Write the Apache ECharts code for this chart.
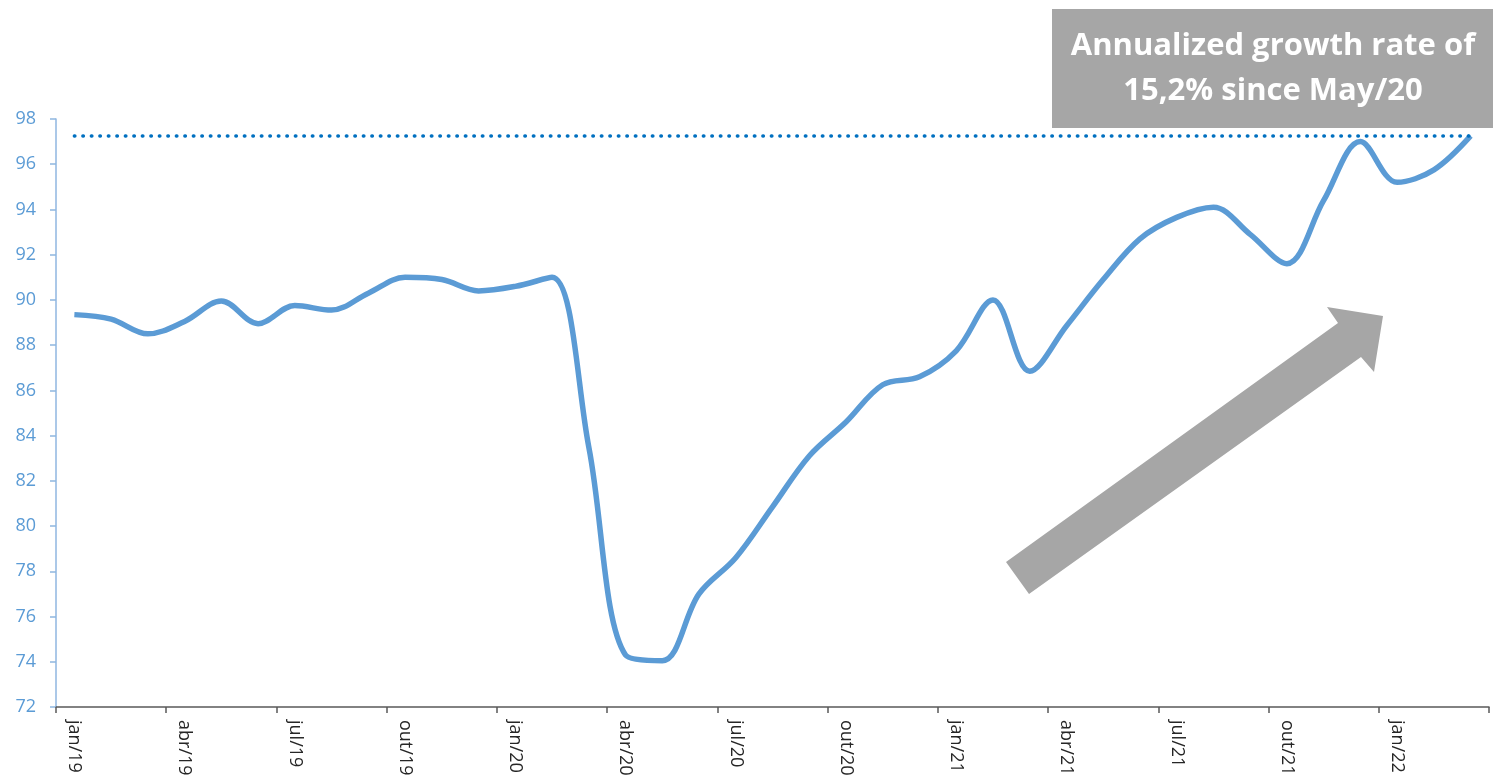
<!DOCTYPE html>
<html lang="en">

<head>
  <meta charset="UTF-8">
  <title>Index</title>
  <style>
    body { margin: 0; background: #fff; }
  </style>
</head>

<body>
  <div class="wrapper" style="width:1493px;height:781px;"></div>

  <script src="https://cdn.jsdelivr.net/npm/echarts@6/dist/echarts.min.js"></script>
  <script>
    // months jan/19 .. mar/22
    const months = [
      'jan/19', 'fev/19', 'mar/19', 'abr/19', 'mai/19', 'jun/19', 'jul/19', 'ago/19', 'set/19', 'out/19', 'nov/19', 'dez/19',
      'jan/20', 'fev/20', 'mar/20', 'abr/20', 'mai/20', 'jun/20', 'jul/20', 'ago/20', 'set/20', 'out/20', 'nov/20', 'dez/20',
      'jan/21', 'fev/21', 'mar/21', 'abr/21', 'mai/21', 'jun/21', 'jul/21', 'ago/21', 'set/21', 'out/21', 'nov/21', 'dez/21',
      'jan/22', 'fev/22', 'mar/22'
    ]
    const index = [
      89.35, 89.15, 88.5, 89.05, 89.95, 88.95, 89.75, 89.55, 90.3, 91.0, 90.9, 90.4,
      90.6, 91.0, 83.5, 74.3, 74.05, 77.0, 78.6, 80.85, 83.1, 84.6, 86.25, 86.6,
      87.75, 90.0, 86.85, 88.85, 90.9, 92.7, 93.65, 94.1, 92.9, 91.6, 94.4, 97.0,
      95.2, 95.75, 97.25
    ]
    // level of the last month, drawn as the dotted reference
    const lastLevel = 97.25
    const yTicks = { min: 72, max: 98, step: 2 }
    const note = 'Annualized growth rate of\n15,2% since May/20'

    const chart = echarts.init(document.querySelector('.wrapper'))

    const option = {
      animation: false,
      grid: { left: 56, right: 4, top: 119, bottom: 74 },
      xAxis: {
        type: 'category',
        data: months,
        boundaryGap: true,
        axisLine: { show: true, lineStyle: { color: '#595959', width: 1.5 } },
        axisTick: {
          show: true,
          interval: 2,
          alignWithLabel: false,
          length: 6,
          lineStyle: { color: '#595959', width: 1.5 }
        },
        axisLabel: {
          interval: 2,
          rotate: -90,
          margin: 13,
          color: '#262626',
          fontFamily: 'Open Sans',
          fontSize: 18
        },
        splitLine: { show: false }
      },
      yAxis: {
        type: 'value',
        min: yTicks.min,
        max: yTicks.max,
        interval: yTicks.step,
        axisLine: { show: true, lineStyle: { color: '#8fb6e0', width: 1.5 } },
        axisTick: { show: true, length: 6, lineStyle: { color: '#8fb6e0', width: 1.5 } },
        axisLabel: {
          margin: 20,
          color: '#5b9bd5',
          fontFamily: 'Open Sans',
          fontSize: 18
        },
        splitLine: { show: false }
      },
      series: [{
        type: 'line',
        data: index,
        smooth: 0.35,
        symbol: 'none',
        lineStyle: { color: '#5b9bd5', width: 5.5 },
        markLine: {
          silent: true,
          symbol: 'none',
          label: { show: false },
          lineStyle: { color: '#0070c0', width: 3.5, type: [0.5, 8], cap: 'round' },
          data: [[
            { xAxis: 0, yAxis: lastLevel },
            { xAxis: months.length - 1, yAxis: lastLevel }
          ]]
        }
      }],
      graphic: [
        {
          type: 'rect',
          left: 1052,
          top: 9,
          shape: { width: 441, height: 119 },
          style: { fill: '#a6a6a6' }
        },
        {
          type: 'text',
          x: 1273,
          y: 69,
          style: {
            text: note,
            fill: '#fff',
            fontFamily: 'Open Sans',
            fontWeight: 'bold',
            fontSize: 31,
            lineHeight: 45,
            align: 'center',
            verticalAlign: 'middle'
          }
        },
        {
          // big trend arrow
          type: 'polygon',
          shape: {
            points: [
              [1006, 562], [1338, 323], [1327, 307], [1383, 316],
              [1374, 372], [1361, 357], [1029, 594]
            ]
          },
          style: { fill: '#a6a6a6' }
        }
      ]
    }

    chart.setOption(option)
  </script>

</body>

</html>
